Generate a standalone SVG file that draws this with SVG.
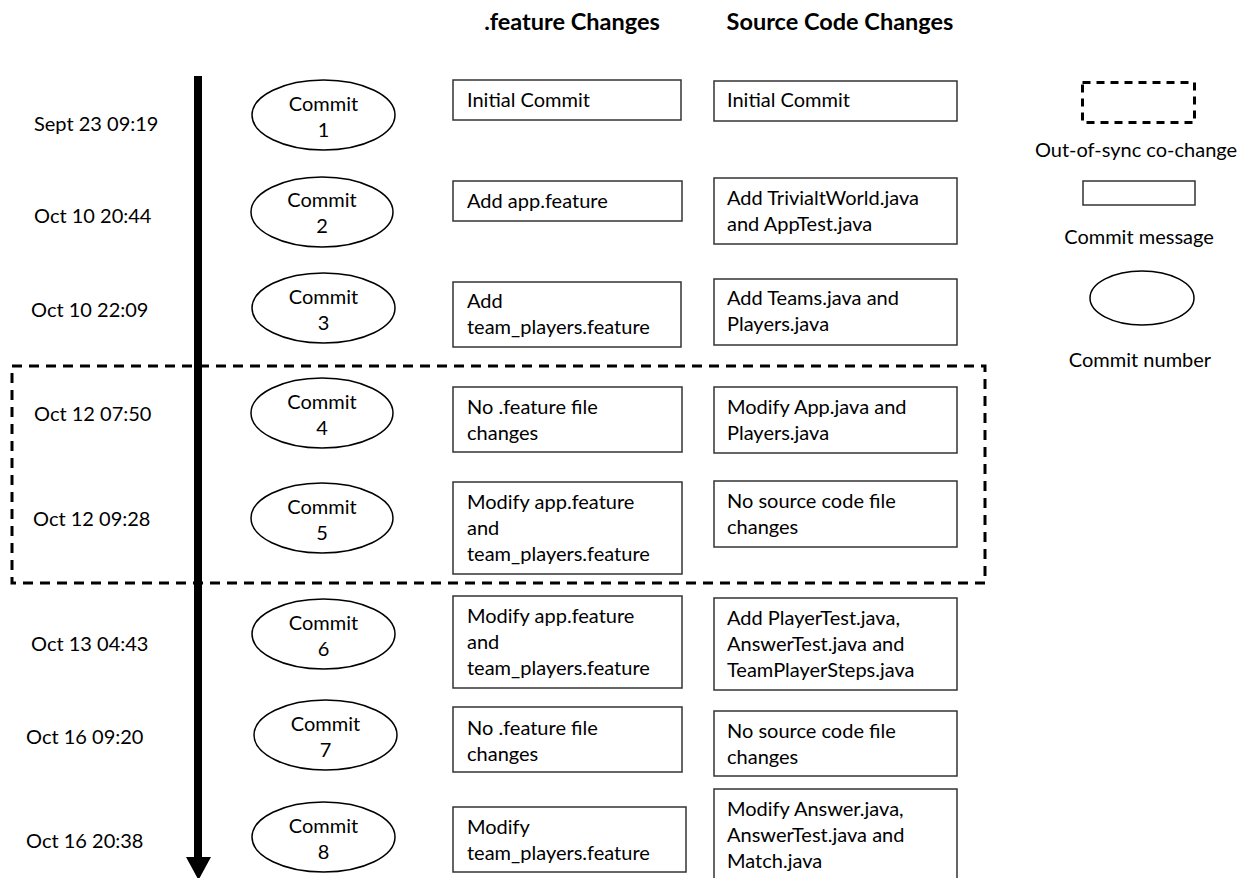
<svg xmlns="http://www.w3.org/2000/svg" width="1247" height="878" viewBox="0 0 1247 878">
<style>
text{font-family:Lato,"Liberation Sans",sans-serif;font-size:20px;fill:#000}
.h{font-weight:bold;text-anchor:middle;font-size:23.5px}
.c{text-anchor:middle}
.box{fill:#fff;stroke:#333;stroke-width:1.5}
.ell{fill:#fff;stroke:#000;stroke-width:1.5}
.dash{fill:none;stroke:#000;stroke-width:3;stroke-dasharray:10 7}
</style>
<rect width="1247" height="878" fill="#fff"/>
<g id="headers">
<text class="h" x="572" y="30">.feature Changes</text>
<text class="h" x="840" y="30">Source Code Changes</text>
</g>
<g id="connectors">
<rect x="12" y="366" width="973" height="217" class="dash"/>
<rect x="194" y="76" width="8" height="784" fill="#000"/>
<polygon points="186,857 211,857 198.5,880" fill="#000"/>
</g>
<g id="dates">
<text x="34" y="131">Sept 23 09:19</text>
<text x="34" y="223">Oct 10 20:44</text>
<text x="31" y="317">Oct 10 22:09</text>
<text x="34" y="421">Oct 12 07:50</text>
<text x="33" y="526">Oct 12 09:28</text>
<text x="31" y="651">Oct 13 04:43</text>
<text x="26" y="744">Oct 16 09:20</text>
<text x="26" y="848">Oct 16 20:38</text>
</g>
<g id="commit1"><ellipse class="ell" cx="323.5" cy="115" rx="71.5" ry="35"/><text class="c" x="323.5" y="111">Commit</text><text class="c" x="323.5" y="137">1</text></g>
<g id="commit2"><ellipse class="ell" cx="322" cy="212" rx="71" ry="35"/><text class="c" x="322" y="207">Commit</text><text class="c" x="322" y="233">2</text></g>
<g id="commit3"><ellipse class="ell" cx="323.5" cy="308" rx="71.5" ry="35"/><text class="c" x="323.5" y="304">Commit</text><text class="c" x="323.5" y="330">3</text></g>
<g id="commit4"><ellipse class="ell" cx="322" cy="413" rx="71" ry="35"/><text class="c" x="322" y="409">Commit</text><text class="c" x="322" y="435">4</text></g>
<g id="commit5"><ellipse class="ell" cx="322" cy="518" rx="71" ry="35"/><text class="c" x="322" y="514">Commit</text><text class="c" x="322" y="540">5</text></g>
<g id="commit6"><ellipse class="ell" cx="323.5" cy="634" rx="71.5" ry="35"/><text class="c" x="323.5" y="630">Commit</text><text class="c" x="323.5" y="656">6</text></g>
<g id="commit7"><ellipse class="ell" cx="325.5" cy="735" rx="71.5" ry="35"/><text class="c" x="325.5" y="731">Commit</text><text class="c" x="325.5" y="757">7</text></g>
<g id="commit8"><ellipse class="ell" cx="323.5" cy="837" rx="71.5" ry="35"/><text class="c" x="323.5" y="833">Commit</text><text class="c" x="323.5" y="859">8</text></g>
<g id="feature1"><rect class="box" x="453" y="80" width="228" height="40"/><text x="467" y="107">Initial Commit</text></g>
<g id="feature2"><rect class="box" x="453" y="181" width="229" height="40"/><text x="467" y="208">Add app.feature</text></g>
<g id="feature3"><rect class="box" x="453" y="282" width="228" height="65"/><text x="467" y="308">Add</text><text x="467" y="334">team_players.feature</text></g>
<g id="feature4"><rect class="box" x="453" y="387" width="229" height="65"/><text x="467" y="414">No .feature file</text><text x="467" y="440">changes</text></g>
<g id="feature5"><rect class="box" x="453" y="482" width="229" height="92"/><text x="467" y="509">Modify app.feature</text><text x="467" y="535">and</text><text x="467" y="561">team_players.feature</text></g>
<g id="feature6"><rect class="box" x="453" y="596" width="229" height="92"/><text x="467" y="623">Modify app.feature</text><text x="467" y="649">and</text><text x="467" y="675">team_players.feature</text></g>
<g id="feature7"><rect class="box" x="453" y="707" width="229" height="65"/><text x="467" y="735">No .feature file</text><text x="467" y="761">changes</text></g>
<g id="feature8"><rect class="box" x="453" y="807" width="233" height="65"/><text x="467" y="834">Modify</text><text x="467" y="860">team_players.feature</text></g>
<g id="source1"><rect class="box" x="714" y="81" width="243" height="40"/><text x="727" y="107">Initial Commit</text></g>
<g id="source2"><rect class="box" x="714" y="178" width="243" height="66"/><text x="727" y="205">Add TrivialtWorld.java</text><text x="727" y="231">and AppTest.java</text></g>
<g id="source3"><rect class="box" x="714" y="279" width="243" height="66"/><text x="727" y="305">Add Teams.java and</text><text x="727" y="331">Players.java</text></g>
<g id="source4"><rect class="box" x="714" y="387" width="243" height="66"/><text x="727" y="414">Modify App.java and</text><text x="727" y="440">Players.java</text></g>
<g id="source5"><rect class="box" x="714" y="481" width="243" height="66"/><text x="727" y="508">No source code file</text><text x="727" y="534">changes</text></g>
<g id="source6"><rect class="box" x="714" y="598" width="243" height="92"/><text x="727" y="625">Add PlayerTest.java,</text><text x="727" y="651">AnswerTest.java and</text><text x="727" y="677">TeamPlayerSteps.java</text></g>
<g id="source7"><rect class="box" x="714" y="711" width="243" height="65"/><text x="727" y="738">No source code file</text><text x="727" y="764">changes</text></g>
<g id="source8"><rect class="box" x="714" y="789" width="243" height="95"/><text x="727" y="816">Modify Answer.java,</text><text x="727" y="842">AnswerTest.java and</text><text x="727" y="868">Match.java</text></g>
<g id="legend-outofsync"><rect x="1082.5" y="82.5" width="112" height="40" fill="none" stroke="#000" stroke-width="3" stroke-dasharray="8 6"/><text class="c" x="1136" y="157">Out-of-sync co-change</text></g>
<g id="legend-message"><rect class="box" x="1083" y="181" width="112" height="24"/><text class="c" x="1139" y="244">Commit message</text></g>
<g id="legend-number"><ellipse class="ell" cx="1142" cy="298" rx="52" ry="27"/><text class="c" x="1140" y="367">Commit number</text></g>
</svg>
